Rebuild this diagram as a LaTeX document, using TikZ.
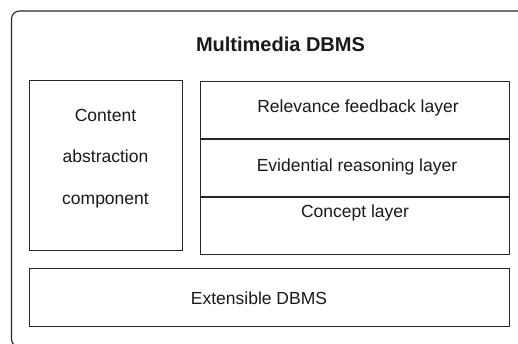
\documentclass[tikz,border=0pt]{standalone}
\usepackage{fontspec}
\setmainfont{Liberation Sans}
\begin{document}
\begin{tikzpicture}[x=1pt,y=-1pt,
  frame/.style={draw=black!85, line width=1.1pt},
  box/.style={frame, rectangle, inner sep=0pt, anchor=north west},
  lbl/.style={font=\fontsize{17.5}{21}\selectfont, text=black!90, inner sep=0pt},
  ttl/.style={font=\fontsize{20}{24}\selectfont\bfseries, text=black!90, inner sep=0pt}]
\useasboundingbox (0,0) rectangle (518,343);
\begin{scope}
  \clip (0,0) rectangle (518,343);
  % outer container, runs off the right and bottom edges
  \draw[frame, rounded corners=8pt] (11.5,11) rectangle (560,347);
\end{scope}
\node[ttl] (title) at (280.5,44) {Multimedia DBMS};
% content abstraction component
\node[box, minimum width=153pt, minimum height=170pt] (cac) at (29,80) {};
\node[lbl, align=center, font=\fontsize{17.5}{41.5}\selectfont] (cactext) at (105.5,158.5) {Content\\abstraction\\component};
% layered stack on the right
\node[box, minimum width=309pt, minimum height=57pt] (rel) at (200,80.5) {};
\node[box, minimum width=309pt, minimum height=57pt] (evi) at (rel.south west) {};
\node[box, minimum width=309pt, minimum height=57pt] (con) at (evi.south west) {};
\node[lbl] (reltext) at (358,108) {Relevance feedback layer};
\node[lbl] (evitext) at (357,167) {Evidential reasoning layer};
\node[lbl] (context) at (355,213) {Concept layer};
% underlying DBMS
\node[box, minimum width=480pt, minimum height=58pt] (ext) at (29,268) {};
\node[lbl] (exttext) at (259,298) {Extensible DBMS};
\end{tikzpicture}
\end{document}
